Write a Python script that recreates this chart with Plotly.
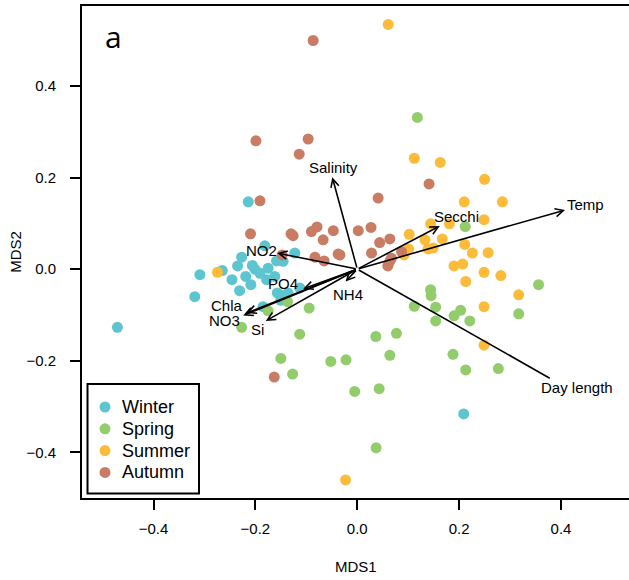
import plotly.graph_objects as go

# ---------------- data ----------------
winter_x = [-0.214, -0.227, -0.1815, -0.1585, -0.1455, -0.1226, -0.309, -0.265, -0.235, -0.206,
            -0.201, -0.219, -0.191, -0.175, -0.162, -0.246, -0.209, -0.178, -0.231, -0.319,
            -0.152, -0.136, -0.113, -0.185, -0.471, 0.209, -0.157, -0.150]
winter_y = [0.147, 0.026, 0.051, 0.018, 0.017, 0.035, -0.012, -0.003, 0.007, 0.008,
            0.000, -0.016, -0.009, 0.002, -0.016, -0.023, -0.034, -0.023, -0.047, -0.060,
            -0.056, -0.052, -0.041, -0.082, -0.127, -0.316, -0.052, -0.068]

spring_x = [0.118, 0.212, 0.356, 0.144, 0.145, 0.112, 0.154, 0.203, 0.190, 0.317,
            0.154, 0.221, 0.0365, 0.077, -0.022, 0.064, 0.188, 0.213, 0.277, -0.005,
            0.043, 0.037, -0.137, -0.0945, -0.175, -0.227, -0.113, -0.150, -0.052, -0.127]
spring_y = [0.331, 0.093, -0.034, -0.045, -0.058, -0.081, -0.083, -0.090, -0.102, -0.0975,
            -0.113, -0.113, -0.147, -0.140, -0.198, -0.188, -0.186, -0.220, -0.217, -0.267,
            -0.261, -0.390, -0.071, -0.085, -0.091, -0.127, -0.142, -0.195, -0.2015, -0.229]

summer_x = [0.0608, 0.112, 0.163, 0.250, 0.210, 0.285, 0.144, 0.181, 0.249, 0.102,
            0.133, 0.167, 0.211, 0.139, 0.149, 0.101, 0.092, 0.226, 0.257, 0.190,
            0.207, 0.249, 0.282, 0.213, 0.317, 0.249, 0.249, -0.023, -0.2745]
summer_y = [0.534, 0.242, 0.233, 0.196, 0.147, 0.147, 0.099, 0.099, 0.108, 0.076,
            0.064, 0.066, 0.054, 0.044, 0.046, 0.044, 0.031, 0.035, 0.036, 0.007,
            0.011, -0.007, -0.014, -0.027, -0.056, -0.082, -0.166, -0.460, -0.007]

autumn_x = [-0.0866, -0.199, -0.0964, -0.114, -0.191, -0.2096, -0.130, -0.126, -0.090, -0.079,
            -0.067, -0.047, 0.002, 0.141, 0.041, 0.027, 0.044, 0.064, 0.087, 0.067,
            0.064, 0.060, 0.028, -0.034, -0.1475, -0.083, -0.065, -0.0375, -0.163]
autumn_y = [0.499, 0.280, 0.284, 0.251, 0.149, 0.077, 0.077, 0.073, 0.082, 0.092,
            0.064, 0.084, 0.084, 0.186, 0.155, 0.091, 0.058, 0.066, 0.038, 0.024,
            0.017, 0.007, 0.035, 0.031, 0.031, 0.026, 0.018, 0.033, -0.2355]

seasons = ["Winter", "Spring", "Summer", "Autumn"]
season_x = [winter_x, spring_x, summer_x, autumn_x]
season_y = [winter_y, spring_y, summer_y, autumn_y]
season_colors = ["#5CC5CF", "#92CC6B", "#FDBB3A", "#C87C63"]

env_names = ["Salinity", "Secchi", "Temp", "Day length", "NO2", "PO4", "NH4", "Chla", "NO3", "Si"]
env_x = [-0.049, 0.162, 0.408, 0.378, -0.157, -0.106, -0.023, -0.2175, -0.224, -0.1796]
env_y = [0.2006, 0.094, 0.129, -0.238, 0.035, -0.043, -0.027, -0.096, -0.101, -0.113]
env_head = [True, True, True, False, True, True, True, True, True, True]
label_x = [-0.046, 0.195, 0.449, 0.431, -0.189, -0.146, -0.019, -0.255, -0.260, -0.195]
label_y = [0.222, 0.115, 0.142, -0.258, 0.041, -0.032, -0.056, -0.080, -0.112, -0.132]

tick_vals = [-0.4, -0.2, 0.0, 0.2, 0.4]
tick_text = ["\u22120.4", "\u22120.2", "0.0", "0.2", "0.4"]

# ---------------- figure ----------------
FONT = "Liberation Sans, Arial, Helvetica, sans-serif"
W, H = 629, 580
ML, MR, MT, MB = 82, 0, 6, 82
PW, PH = W - ML - MR, H - MT - MB


def px_to_paper(px, py):
    return (px - ML) / PW, (H - MB - py) / PH


fig = go.Figure()
for name, xs, ys, col in zip(seasons, season_x, season_y, season_colors):
    fig.add_trace(go.Scatter(x=xs, y=ys, mode="markers", name=name, showlegend=False,
                             marker=dict(color=col, size=11, line=dict(width=0))))

annotations = []
shapes = []
for n, ex, ey, hd, lx, ly in zip(env_names, env_x, env_y, env_head, label_x, label_y):
    annotations.append(dict(x=ex, y=ey, ax=0, ay=0, xref="x", yref="y", axref="x", ayref="y",
                            text="", showarrow=True, arrowhead=5 if hd else 0,
                            arrowsize=1.0, arrowwidth=1.6, arrowcolor="black", standoff=0))
    annotations.append(dict(x=lx, y=ly, xref="x", yref="y", text=n, showarrow=False,
                            font=dict(family=FONT, size=15, color="black"),
                            xanchor="center", yanchor="middle"))

annotations += [
    dict(x=0.5, y=-0.1395, xref="paper", yref="paper", text="MDS1", showarrow=False,
         font=dict(family=FONT, size=15, color="black"), xanchor="center", yanchor="middle"),
    dict(x=-0.123, y=0.5, xref="paper", yref="paper", text="MDS2", showarrow=False,
         textangle=-90, font=dict(family=FONT, size=15, color="black"),
         xanchor="center", yanchor="middle"),
    dict(x=0.057, y=0.938, xref="paper", yref="paper", text="a", showarrow=False,
         font=dict(family="Open Sans, DejaVu Sans, sans-serif", size=30, color="black"),
         xanchor="center", yanchor="middle"),
]

# ---- legend box (drawn by hand to match the reference spacing) ----
bx0, by0 = px_to_paper(87.5, 493.5)
bx1, by1 = px_to_paper(199, 384)
shapes.append(dict(type="rect", xref="paper", yref="paper", x0=bx0, y0=by0, x1=bx1, y1=by1,
                   line=dict(color="black", width=2), fillcolor="white", layer="above"))
for i, (name, col) in enumerate(zip(seasons, season_colors)):
    mx, my = px_to_paper(105, 407 + i * 21.8)
    shapes.append(dict(type="circle", xref="paper", yref="paper", xsizemode="pixel",
                       ysizemode="pixel", xanchor=mx, yanchor=my, x0=-5.5, x1=5.5,
                       y0=-5.5, y1=5.5, fillcolor=col, line=dict(width=0), layer="above"))
    tx, _ = px_to_paper(120, 0)
    annotations.append(dict(x=tx, y=my, xref="paper", yref="paper", text=name,
                            showarrow=False, xanchor="left", yanchor="middle",
                            font=dict(family=FONT, size=18, color="black")))

axis_common = dict(showgrid=False, zeroline=False, showline=True, linecolor="black",
                   linewidth=2, ticks="outside", ticklen=10, tickwidth=2, tickcolor="black",
                   tickvals=tick_vals, ticktext=tick_text,
                   tickfont=dict(family=FONT, size=15, color="black"))

fig.update_layout(
    width=W, height=H,
    margin=dict(l=ML, r=MR, t=MT, b=MB),
    plot_bgcolor="white", paper_bgcolor="white",
    xaxis=dict(range=[-0.5405, 0.5336], mirror=True, ticklabelstandoff=6, **axis_common),
    yaxis=dict(range=[-0.4995, 0.5743], mirror=False, ticklabelstandoff=11, **axis_common),
    showlegend=False,
    annotations=annotations,
    shapes=shapes,
)

fig.write_html("out.html", config={"displayModeBar": False},
               post_script="document.body.style.margin='0';document.body.style.overflow='hidden';")
